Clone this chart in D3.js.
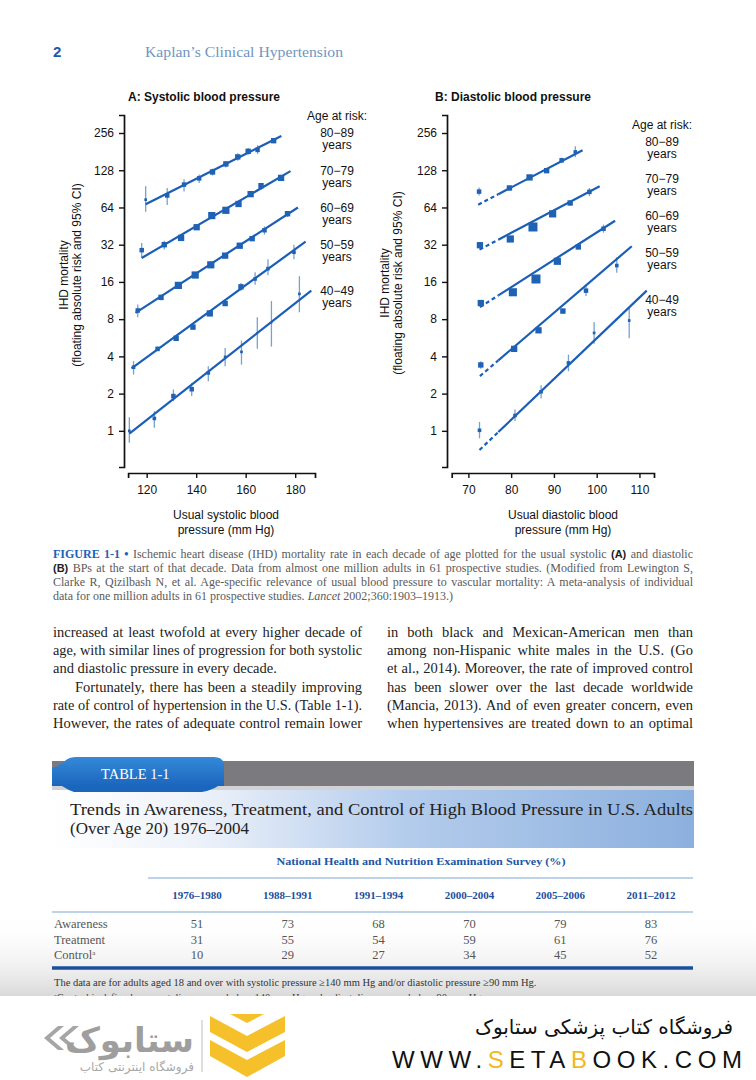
<!DOCTYPE html>
<html><head><meta charset="utf-8">
<script src="https://cdn.jsdelivr.net/npm/d3@7"></script>
<style>
body{margin:0;background:#fff;}
svg{display:block;}
</style></head><body>
<svg id="page" width="756" height="1080"></svg>
<script>
// ================= DATA =================
const ageGroups = ["80−89", "70−79", "60−69", "50−59", "40−49"];
const yTickValues = [1, 2, 4, 8, 16, 32, 64, 128, 256];
const sysTicks = [120, 140, 160, 180];
const diaTicks = [70, 80, 90, 100, 110];

// Panel A: usual systolic BP (mm Hg) per age group
const sysBP = [
  [119.6, 128.3, 135.1, 141.2, 146.6, 152.0, 156.8, 161.0, 164.8, 171.3],
  [118.0, 127.1, 133.9, 140.2, 146.3, 152.0, 157.1, 162.0, 166.2, 174.3],
  [116.4, 125.8, 132.8, 139.6, 145.9, 151.7, 157.6, 162.6, 167.6, 176.9],
  [114.7, 124.4, 131.9, 138.7, 145.5, 151.7, 158.1, 163.8, 169.0, 179.5],
  [113.0, 123.1, 130.8, 138.2, 144.9, 151.7, 158.3, 164.7, 170.4, 181.7]
];
const sysRisk = [
  [74, 80, 98, 110, 124, 144, 164, 182, 187, 222],
  [28.9, 32, 36.3, 44.3, 55, 60.7, 68.3, 82, 96, 111],
  [9.4, 12, 15, 18.2, 22, 26.1, 31.4, 35.8, 41.9, 57],
  [3.27, 4.6, 5.6, 6.9, 8.9, 10.7, 14.6, 16.9, 20.5, 27.8],
  [1.0, 1.26, 1.91, 2.17, 2.94, 3.96, 4.35, 6.2, 7.5, 12.8]
];
const sysLo = [
  [59, 67, 86, 101, 116, 135, 153, 171, 173, 212],
  [25, 29.2, 34.5, 42.5, 53, 58.5, 66, 79, 89, 107],
  [8.3, 11.4, 14.4, 17.6, 21.3, 25.3, 30.4, 34.4, 38.6, 53.5],
  [2.85, 4.4, 5.4, 6.6, 8.5, 10.2, 13.6, 15.2, 18.1, 24.4],
  [0.8, 1.06, 1.74, 1.91, 2.52, 3.33, 3.43, 4.6, 4.8, 9.1]
];
const sysHi = [
  [95, 92, 108, 118, 132, 151, 176, 194, 204, 233],
  [33, 34.5, 38, 46, 57, 63, 70.5, 85, 101, 115],
  [10.5, 12.6, 15.6, 18.8, 22.7, 26.9, 32.4, 37.2, 45, 59.7],
  [3.66, 4.8, 5.8, 7.2, 9.3, 11.2, 15.7, 19.2, 24.4, 32],
  [1.29, 1.44, 2.16, 2.44, 3.33, 4.68, 5.36, 8.3, 11.2, 17.8]
];
const sysWeight = [
  [2, 4, 4, 4, 5, 5, 5, 5, 4, 5],
  [4, 5, 6, 6, 7, 7, 6, 6, 5, 6],
  [4, 5, 7, 7, 7, 6, 6, 5, 4, 5],
  [3, 4, 5, 5, 6, 5, 5, 3, 3, 3],
  [2, 3, 4, 4, 3, 2, 2, 1, 1, 2]
];
const sysFitBP = [[119.6, 174.4], [118, 178.1], [115.5, 181.1], [113.9, 184.2], [113, 186.5]];
const sysFitRisk = [[68, 242], [25, 126], [9.0, 64], [3.2, 33.9], [0.95, 13.6]];

// Panel B: usual diastolic BP (mm Hg) per age group
const diaBP = [
  [72.5, 79.6, 84.3, 88.3, 91.8, 95.0],
  [72.7, 79.8, 85.1, 89.7, 93.8, 98.3],
  [72.9, 80.4, 85.8, 90.8, 95.7, 101.6],
  [72.9, 80.7, 86.4, 92.1, 97.5, 104.7],
  [72.6, 80.9, 87.0, 93.4, 99.4, 107.6]
];
const diaRisk = [
  [86, 92, 112, 127, 154, 180],
  [31.7, 35.6, 44.5, 56.8, 69.6, 85.6],
  [10.8, 13.2, 16.9, 23.5, 30.7, 43.1],
  [3.41, 4.6, 6.5, 9.3, 13.6, 21.7],
  [1.01, 1.33, 2.07, 3.54, 6.19, 7.8]
];
const diaLo = [
  [80, 88, 107, 122, 146, 163],
  [30.5, 34, 42.5, 54.5, 66.5, 79],
  [10.3, 12.6, 16.1, 22.5, 29.4, 40],
  [3.18, 4.4, 6.2, 8.9, 12.3, 19],
  [0.87, 1.2, 1.83, 3.03, 5.05, 5.6]
];
const diaHi = [
  [93, 96, 117, 132, 162, 200],
  [33, 37.2, 46.5, 59, 72.5, 92],
  [11.3, 13.8, 17.7, 24.5, 32, 46.5],
  [3.66, 4.8, 6.8, 9.7, 15.2, 25.3],
  [1.18, 1.49, 2.34, 4.13, 7.6, 10]
];
const diaWeight = [
  [4, 5, 6, 5, 4, 3],
  [6, 7, 9, 7, 5, 4],
  [6, 8, 9, 7, 5, 4],
  [5, 6, 6, 5, 4, 3],
  [3, 3, 3, 3, 2, 2]
];
const diaFitBP = [[72.3, 96.7], [72.6, 100.7], [72.7, 104.3], [72.7, 108.2], [72.6, 111.7]];
const diaFitRisk = [[67.4, 186], [29.2, 95], [10, 50], [2.77, 31.1], [0.70, 13.6]];
const diaDashEnd = 77; // extrapolated (dashed) part of fit below this DBP

// Table 1-1
const tableYears = ["1976–1980", "1988–1991", "1991–1994", "2000–2004", "2005–2006", "2011–2012"];
const tableRowNames = ["Awareness", "Treatment", "Control"];
const awareness = [51, 73, 68, 70, 79, 83];
const treatment = [31, 55, 54, 59, 61, 76];
const control = [10, 29, 27, 34, 45, 52];

// ================= DRAW =================
const svg = d3.select("#page");
const SANS = "'Liberation Sans', Arial, sans-serif";
const SERIF = "'Liberation Serif', 'Times New Roman', serif";
const ARAB = "'DejaVu Sans', 'Noto Sans', sans-serif";
const LINE_C = "#1a5eb8", BOX_C = "#1f62b4", CI_C = "#77a2cf";

svg.append("rect").attr("width", 756).attr("height", 1080).attr("fill", "#fff");

// header
svg.append("text").attr("x", 53).attr("y", 57).attr("font-family", SANS).attr("font-weight", "bold")
  .attr("font-size", 15).attr("fill", "#1d5aa8").text("2");
svg.append("text").attr("x", 145).attr("y", 57).attr("font-family", SERIF).attr("font-size", 15.5)
  .attr("fill", "#7096c0").attr("textLength", 198).attr("lengthAdjust", "spacingAndGlyphs")
  .text("Kaplan’s Clinical Hypertension");

const yScale = d3.scaleLog().base(2).domain([0.51, 358]).range([467, 115]);
const sizeScale = d3.scaleLinear().domain([1, 9]).range([1.8, 9]);

function drawPanel(cfg) {
  const g = svg.append("g");
  const x = d3.scaleLinear().domain(cfg.xDomain).range(cfg.xRange);
  const y = yScale;

  const yAxis = d3.axisLeft(y).tickValues(yTickValues).tickFormat(d3.format("d"))
    .tickSize(5).tickSizeOuter(5).tickPadding(5);
  const ga = g.append("g").attr("transform", `translate(${cfg.yAxisX},0)`).call(yAxis);
  const xAxis = d3.axisBottom(x).tickValues(cfg.xTicks).tickSize(5).tickSizeOuter(5).tickPadding(7);
  const gb = g.append("g").attr("transform", `translate(0,${cfg.xAxisY})`).call(xAxis);
  [ga, gb].forEach(a => {
    a.attr("font-family", SANS).attr("font-size", 12);
    a.select(".domain").attr("stroke", "#111").attr("stroke-width", 1.7);
    a.selectAll(".tick line").attr("stroke", "#111").attr("stroke-width", 1.4);
    a.selectAll(".tick text").attr("fill", "#111");
  });

  g.append("text").attr("x", cfg.titleX).attr("y", 101).attr("text-anchor", "middle")
    .attr("font-family", SANS).attr("font-weight", "bold").attr("font-size", 12).attr("fill", "#111")
    .text(cfg.title);
  cfg.xLabel.forEach((t, i) => {
    g.append("text").attr("x", cfg.xLabelX).attr("y", 519 + i * 15).attr("text-anchor", "middle")
      .attr("font-family", SANS).attr("font-size", 12).attr("fill", "#111").text(t);
  });
  ["IHD mortality", "(floating absolute risk and 95% CI)"].forEach((t, i) => {
    g.append("text").attr("transform", `translate(${cfg.yLabelX + i * 13},${cfg.yLabelY}) rotate(-90)`)
      .attr("text-anchor", "middle").attr("font-family", SANS).attr("font-size", 12).attr("fill", "#111").text(t);
  });
  g.append("text").attr("x", cfg.legendX).attr("y", cfg.legendTop).attr("text-anchor", "middle")
    .attr("font-family", SANS).attr("font-size", 12).attr("fill", "#111").text("Age at risk:");

  for (let i = 0; i < ageGroups.length; i++) {
    const bp = cfg.bp[i], risk = cfg.risk[i], lo = cfg.lo[i], hi = cfg.hi[i], w = cfg.w[i];
    const pts = bp.map((d, j) => ({ x: d, r: risk[j], lo: lo[j], hi: hi[j], w: w[j] }));
    g.append("g").selectAll("line").data(pts).join("line")
      .attr("x1", d => x(d.x)).attr("x2", d => x(d.x))
      .attr("y1", d => y(d.lo)).attr("y2", d => y(d.hi))
      .attr("stroke", CI_C).attr("stroke-width", 1.3);
    const fb = cfg.fitBP[i], fr = cfg.fitRisk[i];
    if (cfg.dashEnd) {
      const t = (cfg.dashEnd - fb[0]) / (fb[1] - fb[0]);
      const rm = Math.pow(2, Math.log2(fr[0]) + t * (Math.log2(fr[1]) - Math.log2(fr[0])));
      g.append("line").attr("x1", x(fb[0])).attr("y1", y(fr[0])).attr("x2", x(cfg.dashEnd)).attr("y2", y(rm))
        .attr("stroke", LINE_C).attr("stroke-width", 2.2).attr("stroke-dasharray", "4,3");
      g.append("line").attr("x1", x(cfg.dashEnd)).attr("y1", y(rm)).attr("x2", x(fb[1])).attr("y2", y(fr[1]))
        .attr("stroke", LINE_C).attr("stroke-width", 2.2);
    } else {
      g.append("line").attr("x1", x(fb[0])).attr("y1", y(fr[0])).attr("x2", x(fb[1])).attr("y2", y(fr[1]))
        .attr("stroke", LINE_C).attr("stroke-width", 2.2);
    }
    g.append("g").selectAll("rect").data(pts).join("rect")
      .attr("x", d => x(d.x) - sizeScale(d.w) / 2).attr("y", d => y(d.r) - sizeScale(d.w) / 2)
      .attr("width", d => sizeScale(d.w)).attr("height", d => sizeScale(d.w))
      .attr("fill", BOX_C);
    const ly = cfg.labelY[i];
    g.append("text").attr("x", cfg.legendX).attr("y", ly).attr("text-anchor", "middle")
      .attr("font-family", SANS).attr("font-size", 12).attr("fill", "#111").text(ageGroups[i]);
    g.append("text").attr("x", cfg.legendX).attr("y", ly + 12).attr("text-anchor", "middle")
      .attr("font-family", SANS).attr("font-size", 12).attr("fill", "#111").text("years");
  }
}

drawPanel({
  title: "A: Systolic blood pressure", titleX: 204,
  xDomain: [112.5, 188], xRange: [128.1, 315], xTicks: sysTicks,
  yAxisX: 124, xAxisY: 473,
  xLabel: ["Usual systolic blood", "pressure (mm Hg)"], xLabelX: 226,
  yLabelX: 68, yLabelY: 275,
  legendX: 337, legendTop: 120, labelY: [137, 175, 212, 249, 295],
  bp: sysBP, risk: sysRisk, lo: sysLo, hi: sysHi, w: sysWeight,
  fitBP: sysFitBP, fitRisk: sysFitRisk
});
drawPanel({
  title: "B: Diastolic blood pressure", titleX: 513,
  xDomain: [66.1, 113.4], xRange: [451.7, 654], xTicks: diaTicks,
  yAxisX: 447, xAxisY: 473,
  xLabel: ["Usual diastolic blood", "pressure (mm Hg)"], xLabelX: 563,
  yLabelX: 389, yLabelY: 283,
  legendX: 662, legendTop: 129, labelY: [146, 183, 220, 257, 304],
  bp: diaBP, risk: diaRisk, lo: diaLo, hi: diaHi, w: diaWeight,
  fitBP: diaFitBP, fitRisk: diaFitRisk, dashEnd: diaDashEnd
});

function justify(sel, width) {
  const n = sel.node();
  const len = n.getComputedTextLength();
  const spaces = (n.textContent.match(/ /g) || []).length;
  if (spaces > 0 && width > len) sel.attr("word-spacing", (width - len) / spaces);
  else if (len > width) sel.attr("textLength", width).attr("lengthAdjust", "spacingAndGlyphs");
}

// caption
const capLines = [
  [["FIGURE 1-1 • ", "fig"], ["Ischemic heart disease (IHD) mortality rate in each decade of age plotted for the usual systolic ", ""], ["(A)", "ab"], [" and diastolic", ""]],
  [["(B)", "ab"], [" BPs at the start of that decade. Data from almost one million adults in 61 prospective studies. (Modified from Lewington S,", ""]],
  [["Clarke R, Qizilbash N, et al. Age-specific relevance of usual blood pressure to vascular mortality: A meta-analysis of individual", ""]],
  [["data for one million adults in 61 prospective studies. ", ""], ["Lancet", "it"], [" 2002;360:1903–1913.)", ""]]
];
capLines.forEach((parts, i) => {
  const t = svg.append("text").attr("x", 53).attr("y", 558 + i * 14)
    .attr("font-family", SERIF).attr("font-size", 12).attr("fill", "#5a5a5a");
  parts.forEach(([s, k]) => {
    const ts = t.append("tspan").text(s);
    if (k === "fig") ts.attr("fill", "#1a62b8").attr("font-weight", "bold");
    if (k === "ab") ts.attr("font-family", SANS).attr("font-weight", "bold").attr("fill", "#222").attr("font-size", 11);
    if (k === "it") ts.attr("font-style", "italic");
  });
  if (i < 3) justify(t, 640);
});

// body text
const leftCol = [
  ["increased at least twofold at every higher decade of", 53, true],
  ["age, with similar lines of progression for both systolic", 53, true],
  ["and diastolic pressure in every decade.", 53, false],
  ["Fortunately, there has been a steadily improving", 75, true],
  ["rate of control of hypertension in the U.S. (Table 1-1).", 53, true],
  ["However, the rates of adequate control remain lower", 53, true]
];
const rightCol = [
  "in both black and Mexican-American men than",
  "among non-Hispanic white males in the U.S. (Go",
  "et al., 2014). Moreover, the rate of improved control",
  "has been slower over the last decade worldwide",
  "(Mancia, 2013). And of even greater concern, even",
  "when hypertensives are treated down to an optimal"
];
leftCol.forEach(([s, x0, j], i) => {
  const t = svg.append("text").attr("x", x0).attr("y", 637 + i * 18.2)
    .attr("font-family", SERIF).attr("font-size", 14.5).attr("fill", "#222").text(s);
  if (j) justify(t, 362 - x0);
});
rightCol.forEach((s, i) => {
  const t = svg.append("text").attr("x", 387).attr("y", 637 + i * 18.2)
    .attr("font-family", SERIF).attr("font-size", 14.5).attr("fill", "#222").text(s);
  justify(t, 693 - 387);
});

// ---- Table ----
const defs = svg.append("defs");
const bandGrad = defs.append("linearGradient").attr("id", "band").attr("x1", "0").attr("x2", "1");
[[0, "#ffffff"], [0.22, "#eef3fa"], [0.55, "#b4ccec"], [1, "#8cb0de"]].forEach(([o, c]) =>
  bandGrad.append("stop").attr("offset", o).attr("stop-color", c));
const tabGrad = defs.append("linearGradient").attr("id", "tab").attr("x1", "0").attr("x2", "0").attr("y1", "0").attr("y2", "1");
[[0, "#3589d8"], [1, "#1b66bd"]].forEach(([o, c]) => tabGrad.append("stop").attr("offset", o).attr("stop-color", c));
const shade = defs.append("linearGradient").attr("id", "shade").attr("x1", "0").attr("x2", "0").attr("y1", "0").attr("y2", "1");
[[0, "#ffffff", 0], [1, "#d9d9d9", 1]].forEach(([o, c, op]) =>
  shade.append("stop").attr("offset", o).attr("stop-color", c).attr("stop-opacity", op));

svg.append("rect").attr("x", 0).attr("y", 915).attr("width", 756).attr("height", 82).attr("fill", "url(#shade)");

svg.append("rect").attr("x", 52).attr("y", 761).attr("width", 642).attr("height", 25).attr("fill", "#7b7b7f");
svg.append("rect").attr("x", 52).attr("y", 786).attr("width", 642).attr("height", 4).attr("fill", "#d2d2d4");
svg.append("rect").attr("x", 52).attr("y", 790).attr("width", 642).attr("height", 58).attr("fill", "url(#band)");
svg.append("path").attr("d", "M52,786 L52,768 Q60,766 66,760 Q70,757 76,757 L214,757 Q222,757 224,763 L224,786 Z")
  .attr("fill", "url(#tab)");
svg.append("path").attr("d", "M62,786 Q68,790 74,792 L202,792 Q212,790 218,786 Z").attr("fill", "#1b66bd");
svg.append("text").attr("x", 101).attr("y", 779).attr("font-family", SERIF).attr("font-size", 14.5)
  .attr("fill", "#fff").text("TABLE 1-1");

svg.append("text").attr("x", 70).attr("y", 815).attr("font-family", SERIF).attr("font-size", 17)
  .attr("fill", "#222").attr("textLength", 623).attr("lengthAdjust", "spacingAndGlyphs")
  .text("Trends in Awareness, Treatment, and Control of High Blood Pressure in U.S. Adults");
svg.append("text").attr("x", 70).attr("y", 834).attr("font-family", SERIF).attr("font-size", 17)
  .attr("fill", "#222").text("(Over Age 20) 1976–2004");

svg.append("text").attr("x", 421).attr("y", 865).attr("text-anchor", "middle").attr("font-family", SERIF)
  .attr("font-weight", "bold").attr("font-size", 11).attr("fill", "#1d56a6")
  .attr("textLength", 289).attr("lengthAdjust", "spacingAndGlyphs")
  .text("National Health and Nutrition Examination Survey (%)");
svg.append("line").attr("x1", 148).attr("x2", 693).attr("y1", 878).attr("y2", 878).attr("stroke", "#a9c3e3").attr("stroke-width", 1.5);
svg.append("line").attr("x1", 52).attr("x2", 693).attr("y1", 912).attr("y2", 912).attr("stroke", "#a9c3e3").attr("stroke-width", 1.5);

const colX = d3.scalePoint().domain(tableYears).range([197, 651]);
svg.append("g").selectAll("text").data(tableYears).join("text")
  .attr("x", d => colX(d)).attr("y", 899).attr("text-anchor", "middle")
  .attr("font-family", SERIF).attr("font-weight", "bold").attr("font-size", 11).attr("fill", "#1d4f9e").text(d => d);

const rowsData = [awareness, treatment, control];
const rowY = d3.scalePoint().domain(tableRowNames).range([928, 959]);
tableRowNames.forEach((name, r) => {
  const t = svg.append("text").attr("x", 54).attr("y", rowY(name)).attr("font-family", SERIF)
    .attr("font-size", 12.5).attr("fill", "#555").text(name);
  if (name === "Control") t.append("tspan").attr("dy", -4).attr("font-size", 7).text("a");
  svg.append("g").selectAll("text").data(rowsData[r]).join("text")
    .attr("x", (d, j) => colX(tableYears[j])).attr("y", rowY(name)).attr("text-anchor", "middle")
    .attr("font-family", SERIF).attr("font-size", 12.5).attr("fill", "#555").text(d => d);
});
svg.append("line").attr("x1", 52).attr("x2", 693).attr("y1", 968).attr("y2", 968).attr("stroke", "#1a4f9c").attr("stroke-width", 3.5);
svg.append("text").attr("x", 54).attr("y", 986).attr("font-family", SERIF).attr("font-size", 10.5).attr("fill", "#333")
  .text("The data are for adults aged 18 and over with systolic pressure ≥140 mm Hg and/or diastolic pressure ≥90 mm Hg.");
svg.append("text").attr("x", 54).attr("y", 1001).attr("font-family", SERIF).attr("font-size", 10.5).attr("fill", "#444")
  .text("ᵃControl is defined as a systolic pressure below 140 mm Hg and a diastolic pressure below 90 mm Hg.");

// ---- Footer (watermark band) ----
svg.append("rect").attr("x", 0).attr("y", 996).attr("width", 756).attr("height", 84).attr("fill", "#fff");
svg.append("text").attr("x", 733).attr("y", 1034).attr("text-anchor", "end")
  .attr("font-family", ARAB).attr("font-size", 20).attr("fill", "#111")
  .text("فروشگاه کتاب پزشکی ستابوک");
const www = svg.append("text").attr("x", 392).attr("y", 1068).attr("font-family", SANS)
  .attr("font-size", 24).attr("fill", "#111").attr("textLength", 350).attr("lengthAdjust", "spacing");
[["WWW.", "#111"], ["S", "#f2b81c"], ["ETA", "#111"], ["B", "#f2b81c"], ["OOK.COM", "#111"]].forEach(([s, c]) =>
  www.append("tspan").attr("fill", c).text(s));

// yellow logo mark
const Y = "#f5c02a";
svg.append("path").attr("d", "M210,1016 L247,1036 L285,1016 L285,1032 L247,1052 L210,1032 Z").attr("fill", Y);
svg.append("path").attr("d", "M210,1040 L247,1060 L285,1040 L285,1056 L247,1077 L210,1056 Z").attr("fill", Y);
svg.append("path").attr("d", "M230,1014 L247,1023 L264,1014 Z").attr("fill", Y);
svg.append("line").attr("x1", 202).attr("x2", 202).attr("y1", 1020).attr("y2", 1072).attr("stroke", "#bdbdbd").attr("stroke-width", 1);

// gray logo
svg.append("path").attr("d", "M58,1026 L44,1038 L58,1050 L64,1050 L50,1038 L64,1026 Z M73,1026 L59,1038 L73,1050 L79,1050 L65,1038 L79,1026 Z")
  .attr("fill", "#a6a6a6");
svg.append("text").attr("x", 194).attr("y", 1052).attr("text-anchor", "end")
  .attr("font-family", ARAB).attr("font-weight", "bold").attr("font-size", 34).attr("fill", "#9e9e9e")
  .text("ستابوک");
svg.append("text").attr("x", 194).attr("y", 1071).attr("text-anchor", "end")
  .attr("font-family", ARAB).attr("font-size", 12).attr("fill", "#a8a8a8")
  .text("فروشگاه اینترنتی کتاب");
</script>
</body></html>
